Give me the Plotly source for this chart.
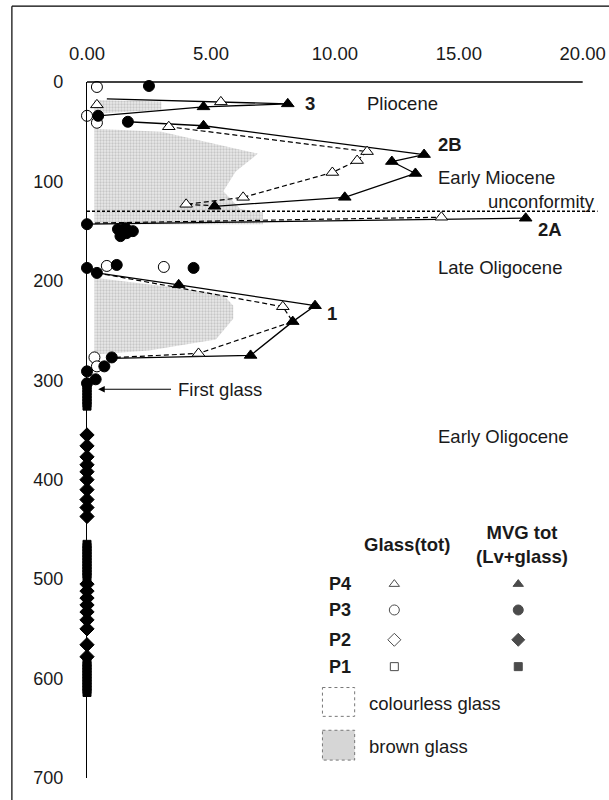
import plotly.graph_objects as go

FONT = "Liberation Sans, Arial, sans-serif"
FS = 18.5

# ---------------- data (x = percentage, y = depth in mbsf) ----------------
x_ticks = [0, 5, 10, 15, 20]
y_ticks = [0, 100, 200, 300, 400, 500, 600, 700]

# P4 glass (tot) - open triangles
p4_glass_val = [0.4, 5.4, 3.3, 11.3, 10.9, 9.9, 6.3, 4.0, 14.3, 7.9, 4.5]
p4_glass_depth = [23, 20, 45, 70, 79, 91, 116, 123, 136, 226, 273]
# P4 MVG tot - filled triangles
p4_mvg_val = [8.1, 4.7, 4.7, 13.6, 12.3, 13.25, 10.4, 5.15, 17.7, 3.7, 9.2, 8.3, 6.6]
p4_mvg_depth = [22, 25, 44, 73, 80, 92, 116, 125, 137, 204, 225, 241, 275]

# P3 glass - open circles
p3_glass_val = [0.4, 0.0, 0.4, 0.8, 3.1, 0.3, 0.4]
p3_glass_depth = [5, 34, 41, 185, 186, 277, 286]
# P3 MVG - filled circles
p3_mvg_val = [2.5, 0.45, 1.65, 0.0, 1.25, 1.55, 1.85, 1.35, 1.6, 0.0, 0.4, 1.2, 4.3,
              1.0, 0.7, 0.0, 0.35, 0.0]
p3_mvg_depth = [4, 34, 40, 143, 148, 147, 150, 155, 152, 187, 192, 184, 187,
                277, 286, 291, 299, 303]

# P2 MVG - filled diamonds (values 0)
p2_mvg_depth = [355, 366, 377, 385, 392, 400, 410, 420, 428, 437,
                505, 512, 519, 526, 533, 541, 550, 566, 578]
p2_mvg_val = [0.0] * len(p2_mvg_depth)

# P1 MVG - filled squares (values 0)
p1_mvg_depth = [305, 308, 311, 314, 317, 320, 323, 326,
                465, 468, 471, 474, 477, 480, 483, 486, 489, 492, 495, 498,
                584, 587, 590, 593, 596, 599, 602, 605, 608, 611, 614]
p1_mvg_val = [0.0] * len(p1_mvg_depth)

# connecting lines (P4 profiles)
mvg_line_val = [0.8, 8.1, 4.7, 0.45, None,
                1.65, 4.7, 13.6, 12.3, 13.25, 10.4, 5.15, None,
                0.0, 17.7, None,
                0.4, 3.7, 9.2, 8.3, 6.6, 1.0]
mvg_line_depth = [17, 22, 25, 34, None,
                  40, 44, 73, 80, 92, 116, 125, None,
                  143, 137, None,
                  192, 204, 225, 241, 275, 278]
glass_line_val = [3.3, 11.3, 10.9, 9.9, 6.3, 4.0, 5.15, None,
                  0.0, 14.3, None,
                  0.4, 7.9, 8.3, 4.5, 1.2]
glass_line_depth = [45, 70, 79, 91, 116, 123, 124.5, None,
                    142, 136, None,
                    192, 226, 241, 273, 277]

# brown glass shaded areas
brown3_val = [0.3, 3.0, 3.0, 0.3]
brown3_depth = [18, 19.5, 28, 32]
brown2_val = [0.3, 3.0, 6.9, 6.0, 5.5, 6.2, 7.1, 7.1, 0.3]
brown2_depth = [47, 50, 72, 90, 110, 128, 131, 143, 143]
brown1_val = [0.3, 3.3, 5.5, 5.9, 5.9, 5.2, 2.5, 0.3]
brown1_depth = [197, 206, 214, 225, 238, 259, 270, 274]

unconformity_depth = 130

legend_rows = ["P4", "P3", "P2", "P1"]

# ---------------- figure ----------------
fig = go.Figure()

for v, d in [(brown3_val, brown3_depth), (brown2_val, brown2_depth), (brown1_val, brown1_depth)]:
    fig.add_trace(go.Scatter(
        x=v + [v[0]], y=d + [d[0]], mode="lines", fill="toself",
        fillcolor="#dcdcdc",
        fillpattern=dict(shape=".", fgcolor="#a4a4a4", bgcolor="#e9e9e9", size=3, solidity=0.45),
        line=dict(width=0), hoverinfo="skip", showlegend=False))

fig.add_trace(go.Scatter(x=glass_line_val, y=glass_line_depth, mode="lines",
                         line=dict(color="black", width=1.2, dash="5px,3px"),
                         connectgaps=False, showlegend=False, hoverinfo="skip"))
fig.add_trace(go.Scatter(x=mvg_line_val, y=mvg_line_depth, mode="lines",
                         line=dict(color="black", width=1.3),
                         connectgaps=False, showlegend=False, hoverinfo="skip"))

def markers(vals, depths, symbol, size, fill):
    fig.add_trace(go.Scatter(
        x=vals, y=depths, mode="markers", cliponaxis=False, showlegend=False,
        marker=dict(symbol=symbol, size=size, color=fill,
                    line=dict(color="black", width=1))))

markers(p1_mvg_val, p1_mvg_depth, "square", 8, "black")
markers(p2_mvg_val, p2_mvg_depth, "diamond", 11, "black")
markers(p3_glass_val, p3_glass_depth, "circle", 11, "white")
markers(p3_mvg_val, p3_mvg_depth, "circle", 11, "black")
markers(p4_glass_val, p4_glass_depth, "triangle-up", 11, "white")
markers(p4_mvg_val, p4_mvg_depth, "triangle-up", 11, "black")

# legend keys (layout only, drawn in the plot's own axes)
key_depths = [505, 531, 561, 588]
key_symbols = ["triangle-up", "circle", "diamond", "square"]
key_sizes = [9, 10, 10, 8]
fig.add_trace(go.Scatter(
    x=[12.4] * 4, y=key_depths, mode="markers", showlegend=False, hoverinfo="skip",
    marker=dict(symbol=key_symbols, size=key_sizes, color="white",
                line=dict(color="black", width=1))))
fig.add_trace(go.Scatter(
    x=[17.4] * 4, y=key_depths, mode="markers", showlegend=False, hoverinfo="skip",
    marker=dict(symbol=key_symbols, size=key_sizes, color="black",
                line=dict(color="black", width=1))))

# ---------------- shapes ----------------
shapes = [
    dict(type="line", xref="x", yref="paper", x0=0, x1=20, y0=1, y1=1,
         line=dict(color="black", width=1.3)),
    dict(type="line", xref="x", yref="y", x0=0, x1=20.6,
         y0=unconformity_depth, y1=unconformity_depth,
         line=dict(color="black", width=1.3, dash="3px,2px")),
    dict(type="line", xref="paper", yref="paper", x0=-0.145, x1=-0.145, y0=-0.04, y1=1.109,
         line=dict(color="black", width=1.2)),
    dict(type="line", xref="paper", yref="paper", x0=-0.145, x1=1.01, y0=1.109, y1=1.109,
         line=dict(color="black", width=1.2)),
    dict(type="rect", xref="x", yref="y", x0=9.5, x1=10.8, y0=609, y1=638,
         line=dict(color="#777", width=1, dash="dot"), fillcolor="white"),
    dict(type="rect", xref="x", yref="y", x0=9.5, x1=10.8, y0=652, y1=682,
         line=dict(color="#777", width=1, dash="dot"), fillcolor="#d6d6d6"),
]

# ---------------- annotations ----------------
def txt(x, y, s, size=FS, bold=False, xanchor="left"):
    return dict(x=x, y=y, xref="x", yref="y", text=("<b>%s</b>" % s) if bold else s,
                showarrow=False, xanchor=xanchor, yanchor="middle",
                font=dict(family=FONT, size=size, color="#1a1a1a"))

ann = [
    txt(11.2, 22, "Pliocene"),
    txt(8.7, 22, "3", bold=True),
    txt(14.1, 63, "2B", bold=True),
    txt(14.1, 96, "Early Miocene"),
    txt(20.56, 120, "unconformity", xanchor="right"),
    txt(18.1, 148, "2A", bold=True),
    txt(14.1, 187, "Late Oligocene"),
    txt(9.6, 233, "1", bold=True),
    txt(3.6, 309, "First glass"),
    txt(14.1, 357, "Early Oligocene"),
    txt(-0.5, 35, "mbsf", bold=True, xanchor="right"),
    txt(12.9, 465, "Glass(tot)", bold=True, xanchor="center"),
    txt(17.55, 465, "MVG tot<br>(Lv+glass)", bold=True, xanchor="center"),
    txt(11.3, 625, "colourless glass"),
    txt(11.3, 668, "brown glass"),
    dict(x=0.45, y=309, ax=3.45, ay=309, xref="x", yref="y", axref="x", ayref="y",
         text="", showarrow=True, arrowhead=2, arrowsize=1.1, arrowwidth=1.2,
         arrowcolor="black"),
]
for lab, dep in zip(legend_rows, key_depths):
    ann.append(txt(9.7, dep, lab, size=18, bold=True))

fig.update_layout(
    width=609, height=800,
    margin=dict(l=87, r=4, t=82, b=22),
    paper_bgcolor="white", plot_bgcolor="white",
    showlegend=False,
    shapes=shapes, annotations=ann,
    font=dict(family=FONT, size=FS, color="#1a1a1a"),
)
fig.update_xaxes(range=[0, 20.9], side="top", tickvals=x_ticks, tickformat=".2f",
                 showgrid=False, zeroline=False, showline=False, ticks="",
                 ticklabelstandoff=17, tickfont=dict(family=FONT, size=FS, color="#1a1a1a"))
fig.update_yaxes(range=[700, 0], tickvals=y_ticks, showgrid=False, zeroline=False,
                 showline=True, linecolor="black", linewidth=1.3, ticks="",
                 ticklabelstandoff=19, tickfont=dict(family=FONT, size=18, color="#1a1a1a"))

fig.write_html("out.html", config={"displayModeBar": False},
               post_script="document.body.style.margin='0';document.body.style.padding='0';"
                           "document.body.style.overflow='hidden';")
